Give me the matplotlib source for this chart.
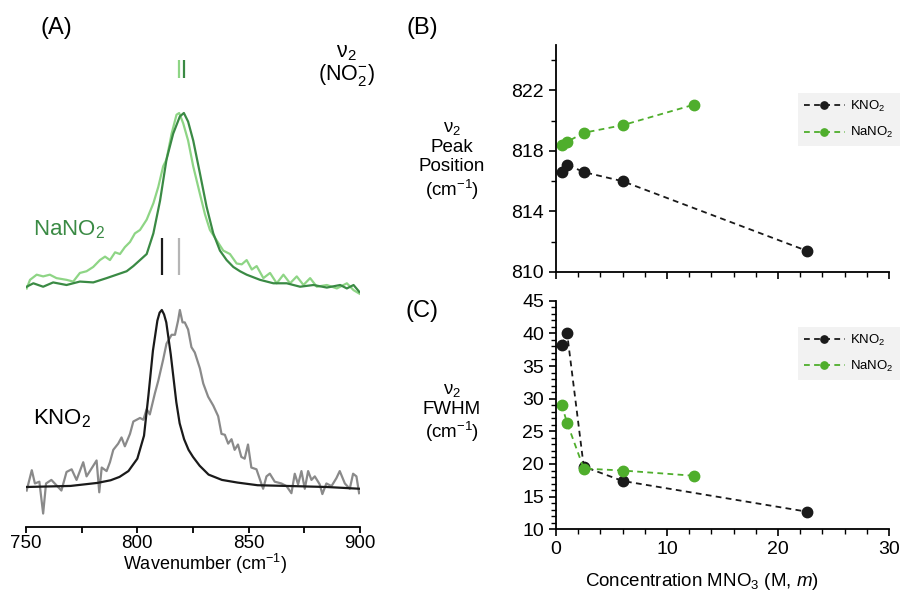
import numpy as np
import matplotlib.pyplot as plt
from matplotlib.ticker import MultipleLocator, FixedLocator

plt.rcParams['font.family'] = ['Liberation Sans', 'DejaVu Sans']
plt.rcParams['mathtext.fontset'] = 'custom'
plt.rcParams['mathtext.rm'] = 'Liberation Sans'
plt.rcParams['mathtext.it'] = 'Liberation Sans:italic'
plt.rcParams['mathtext.default'] = 'regular'

# ---- Raman spectra, v2 band of nitrite (normalised intensity) ----
wn_kno2_fit = [750, 770, 782, 788, 792, 796, 800, 803, 805, 807, 809, 810, 811, 812, 813,
               815, 817.5, 819, 821, 823, 825, 828, 832, 838, 845, 854, 870, 885, 900]
int_kno2_fit = [0.0, 0.006, 0.023, 0.038, 0.057, 0.09, 0.16, 0.29, 0.52, 0.77, 0.94, 0.985, 1.0, 0.975, 0.93,
                0.75, 0.48, 0.36, 0.27, 0.21, 0.17, 0.12, 0.07, 0.04, 0.025, 0.01, 0.005, 0.0, -0.01]

wn_kno2_dil = [750.3, 752.6, 754, 756, 757.7, 759, 761.4, 762.9, 765.9, 768.2, 770.5, 772.7,
               775.7, 777.2, 780.2, 781.7, 782.9, 784, 786.2, 787.7, 789.2, 791.4, 792.9, 794.4,
               796.7, 798.2, 799.7, 801.2, 802.7, 804.2, 805.6, 807.9, 809.4, 811.6, 813.1, 815.4,
               816.9, 818.3, 819.1, 820.3, 821.3, 822.8, 824.3, 825.8, 828.1, 829.6, 831.8, 834.1,
               836.3, 837.8, 839.3, 840.8, 842.3, 843.7, 845.2, 846.7, 848.2, 849.7, 851.2, 853.5,
               856.5, 858, 859.5, 861.7, 864.7, 867, 869.2, 870.7, 872.2, 873.7, 875.2, 876.7,
               878.2, 879.7, 881.9, 883.1, 884.9, 887.2, 889.4, 890.9, 893.2, 895.4, 896.9, 898.4, 899.6]
int_kno2_dil = [-0.02, 0.095, 0.02, 0.03, -0.15, 0.02, 0.04, 0.02, -0.02, 0.085, 0.10, 0.04,
                0.14, 0.06, 0.12, 0.15, -0.03, 0.11, 0.09, 0.14, 0.21, 0.245, 0.28, 0.23,
                0.30, 0.37, 0.38, 0.39, 0.38, 0.44, 0.41, 0.53, 0.60, 0.72, 0.81, 0.86,
                0.86, 0.94, 1.0, 0.93, 0.93, 0.89, 0.79, 0.76, 0.67, 0.585, 0.51, 0.46,
                0.40, 0.30, 0.295, 0.245, 0.27, 0.21, 0.24, 0.17, 0.16, 0.24, 0.11, 0.10,
                -0.01, 0.06, 0.075, 0.03, 0.02, 0.005, -0.035, 0.075, 0.015, 0.09, -0.01, 0.09,
                0.04, 0.06, 0.015, -0.04, 0.02, 0.005, 0.05, 0.09, 0.02, -0.01, 0.075, 0.06, -0.035]

wn_nano2_conc = [750.3, 753.3, 757.7, 762.2, 768.2, 774.2, 780.2, 786.2, 790.7, 795.2, 798.2,
                 801.2, 804.2, 807.2, 810.2, 813.1, 816.1, 819.1, 820.9, 822.8, 825.1, 828.1,
                 831.1, 834.1, 837.1, 840.1, 843.1, 846.1, 849.1, 855.1, 861.1, 867.1, 873.1,
                 879.1, 885.1, 891.1, 894.1, 897.1, 899.7]
int_nano2_conc = [-0.01, 0.01, -0.01, 0.015, 0.0, 0.02, 0.015, 0.04, 0.06, 0.08, 0.11,
                  0.145, 0.18, 0.30, 0.49, 0.73, 0.88, 0.98, 1.0, 0.95, 0.84, 0.65,
                  0.455, 0.30, 0.20, 0.145, 0.105, 0.08, 0.06, 0.03, 0.01, 0.01, -0.01,
                  0.0, -0.015, 0.0, -0.02, 0.0, -0.04]

wn_nano2_dil = [750.3, 751.8, 754.8, 757.7, 760.7, 763.7, 768.2, 771.2, 774.2, 777.2, 780.2,
                783.2, 785.5, 787.7, 790, 792.2, 794.4, 796.7, 798.9, 801.2, 804.2, 807.2,
                809.4, 811.6, 813.1, 815.4, 817.6, 818.8, 820.6, 822.8, 825.1, 828.1, 830.4,
                832.6, 835.6, 838.6, 841.6, 844.6, 846.9, 849.1, 851.4, 853.6, 856.6, 859.6,
                862.6, 865.6, 868.6, 871.6, 874.6, 877.6, 880.6, 885.1, 889.6, 894.1, 897.1, 899.7]
int_nano2_dil = [-0.02, 0.03, 0.06, 0.05, 0.06, 0.04, 0.03, 0.02, 0.07, 0.08, 0.105,
                 0.145, 0.165, 0.145, 0.19, 0.18, 0.22, 0.25, 0.30, 0.32, 0.38, 0.475,
                 0.57, 0.69, 0.73, 0.88, 0.99, 1.0, 0.94, 0.84, 0.69, 0.53, 0.41,
                 0.32, 0.26, 0.20, 0.18, 0.125, 0.12, 0.145, 0.09, 0.11, 0.04, 0.07,
                 0.01, 0.06, 0.01, 0.05, 0.0, 0.04, -0.01, 0.0, -0.02, 0.01, -0.03, -0.05]

# peak position markers above each pair of spectra
peak_nano2 = [818.6, 821.0]
peak_kno2 = [811.2, 818.7]

# ---- peak position and FWHM vs concentration ----
conc_kno2 = [0.5, 1.0, 2.5, 6.0, 22.6]
conc_nano2 = [0.5, 1.0, 2.5, 6.0, 12.4]
pos_kno2 = [816.6, 817.1, 816.6, 816.0, 811.4]
pos_nano2 = [818.4, 818.6, 819.2, 819.7, 821.05]
fwhm_kno2 = [38.2, 40.0, 19.6, 17.4, 12.7]
fwhm_nano2 = [29.1, 26.3, 19.3, 19.0, 18.2]

c_dark = '#3a8a44'
c_light = '#8ed585'
c_gray = '#8a8a8a'
c_black = '#1a1a1a'
c_green = '#4fae2c'

W, H = 917, 593
fig = plt.figure(figsize=(W / 100, H / 100), dpi=100)

def box(x0, y0, x1, y1):
    # pixel box -> figure fraction [left, bottom, width, height]
    return [x0 / W, 1 - y1 / H, (x1 - x0) / W, (y1 - y0) / H]

# ---------- (A) spectra ----------
axA = fig.add_axes(box(26, 50, 360, 527))
top = 477
axA.set_xlim(750, 900)
axA.set_ylim(0, top)
k_off, k_scale = 40, 177
n_off, n_scale = 242, 172
axA.plot(wn_kno2_dil, k_off + k_scale * np.array(int_kno2_dil), color=c_gray, lw=1.6)
axA.plot(wn_kno2_fit, k_off + k_scale * np.array(int_kno2_fit), color=c_black, lw=1.6)
axA.plot(wn_nano2_dil, n_off + n_scale * np.array(int_nano2_dil), color=c_light, lw=1.6)
axA.plot(wn_nano2_conc, n_off + n_scale * np.array(int_nano2_conc), color=c_dark, lw=1.6)
axA.vlines(peak_nano2[0], 449, 467, color=c_light, lw=1.6)
axA.vlines(peak_nano2[1], 449, 467, color=c_dark, lw=1.6)
axA.vlines(peak_kno2[0], 252, 289, color=c_black, lw=1.6)
axA.vlines(peak_kno2[1], 252, 289, color='#b5b5b5', lw=1.6)
for s in ['left', 'right', 'top']:
    axA.spines[s].set_visible(False)
axA.spines['bottom'].set_linewidth(1.3)
axA.set_yticks([])
axA.xaxis.set_major_locator(MultipleLocator(50))
axA.xaxis.set_minor_locator(MultipleLocator(25))
axA.tick_params(axis='x', which='both', length=4.5, width=1.3, labelsize=13.5, pad=1.0)
fig.text(205 / W, 1 - 564 / H, 'Wavenumber (cm$^{-1}$)', ha='center', va='center', fontsize=13)
fig.text(56 / W, 1 - 28 / H, '(A)', ha='center', va='center', fontsize=17)
fig.text(33 / W, 1 - 230 / H, 'NaNO$_2$', ha='left', va='center', fontsize=16, color=c_dark)
fig.text(33 / W, 1 - 419 / H, 'KNO$_2$', ha='left', va='center', fontsize=16, color='black')
fig.text(346 / W, 1 - 65 / H, 'ν$_2$\n(NO$_2^{-}$)', ha='center', va='center',
         fontsize=15.5, linespacing=0.95)

# ---------- (B) peak position ----------
def style_scatter_axes(ax):
    ax.spines['right'].set_visible(False)
    ax.spines['top'].set_visible(False)
    for s in ['left', 'bottom']:
        ax.spines[s].set_linewidth(1.3)
    ax.tick_params(axis='both', which='major', length=5, width=1.2, labelsize=14)
    ax.tick_params(axis='both', which='minor', length=3.5, width=1.0)
    ax.set_xlim(0, 30)
    ax.xaxis.set_major_locator(MultipleLocator(10))
    ax.xaxis.set_minor_locator(MultipleLocator(2))

def add_legend(ax, top_px, ax_h):
    leg = ax.legend(loc='upper left', bbox_to_anchor=(242 / 333, 1 - top_px / ax_h),
                    borderaxespad=0, fontsize=9.5, frameon=True, facecolor='#f2f2f2',
                    edgecolor='none', fancybox=False, handlelength=3.1, handletextpad=0.4,
                    markerscale=0.7, borderpad=0.45, labelspacing=0.85)
    leg.get_frame().set_alpha(1)
    return leg

dash = (0, (3.2, 2.4))
axB = fig.add_axes(box(556, 45, 889, 272))
axB.plot(conc_kno2, pos_kno2, color=c_black, ls=dash, lw=1.3, marker='o', ms=7.5, label='KNO$_2$')
axB.plot(conc_nano2, pos_nano2, color=c_green, ls=dash, lw=1.3, marker='o', ms=7.5, label='NaNO$_2$')
style_scatter_axes(axB)
axB.set_ylim(810, 825)
axB.yaxis.set_major_locator(FixedLocator([810, 814, 818, 822]))
axB.yaxis.set_minor_locator(FixedLocator([812, 816, 820, 824]))
axB.tick_params(axis='x', labelbottom=False)
add_legend(axB, 48, 227)
fig.text(422 / W, 1 - 28 / H, '(B)', ha='center', va='center', fontsize=17)
fig.text(452 / W, 1 - 161 / H, 'ν$_2$\nPeak\nPosition\n(cm$^{-1}$)', ha='center', va='center',
         fontsize=13.5, linespacing=1.15)

# ---------- (C) FWHM ----------
axC = fig.add_axes(box(556, 300.7, 889, 529.3))
axC.plot(conc_kno2, fwhm_kno2, color=c_black, ls=dash, lw=1.3, marker='o', ms=7.5, label='KNO$_2$')
axC.plot(conc_nano2, fwhm_nano2, color=c_green, ls=dash, lw=1.3, marker='o', ms=7.5, label='NaNO$_2$')
style_scatter_axes(axC)
axC.set_ylim(10, 45)
axC.yaxis.set_major_locator(MultipleLocator(5))
axC.yaxis.set_minor_locator(MultipleLocator(1))
add_legend(axC, 26, 228.6)
fig.text(422 / W, 1 - 311 / H, '(C)', ha='center', va='center', fontsize=17)
fig.text(452 / W, 1 - 413 / H, 'ν$_2$\nFWHM\n(cm$^{-1}$)', ha='center', va='center',
         fontsize=13.5, linespacing=1.15)
fig.text(702 / W, 1 - 582 / H, 'Concentration MNO$_3$ (M, $\\mathit{m}$)', ha='center', va='center',
         fontsize=13.5)

fig.savefig('out.png', dpi=100)
